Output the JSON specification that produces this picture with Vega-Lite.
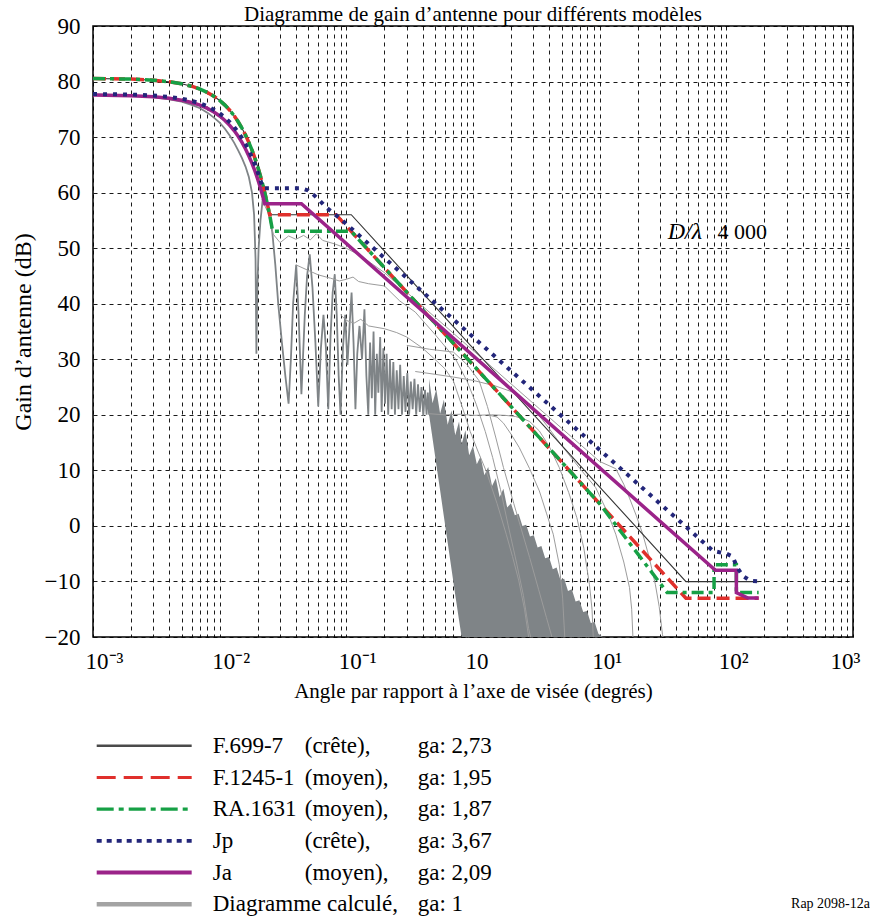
{
 "$schema": "https://vega.github.io/schema/vega-lite/v6.json",
 "background": "white",
 "padding": {"left": 10, "top": 3, "right": 0, "bottom": 0},
 "spacing": 28,
 "config": {
  "font": "Liberation Serif",
  "view": {"stroke": "black", "strokeWidth": 1.5},
  "axis": {"labelColor": "black", "titleColor": "black", "labelFont": "Liberation Serif", "titleFont": "Liberation Serif", "titleFontWeight": "normal"}
 },
 "datasets": {
  "f699": [{"x":0.001,"y":80.56},{"x":0.002,"y":80.44},{"x":0.003,"y":80.24},{"x":0.004,"y":79.96},{"x":0.005,"y":79.6},{"x":0.006,"y":79.16},{"x":0.007,"y":78.64},{"x":0.008,"y":78.04},{"x":0.009,"y":77.36},{"x":0.01,"y":76.6},{"x":0.011,"y":75.76},{"x":0.012,"y":74.84},{"x":0.013,"y":73.84},{"x":0.014,"y":72.76},{"x":0.015,"y":71.6},{"x":0.016,"y":70.36},{"x":0.017,"y":69.04},{"x":0.018,"y":67.64},{"x":0.019,"y":66.16},{"x":0.02,"y":64.6},{"x":0.021,"y":62.96},{"x":0.022,"y":61.24},{"x":0.023,"y":59.44},{"x":0.024,"y":57.56},{"x":0.0248,"y":56.03},{"x":0.1094,"y":56.03},{"x":48,"y":-10.03},{"x":180,"y":-10.03}],
  "f1245": [{"x":0.001,"y":80.56},{"x":0.002,"y":80.44},{"x":0.003,"y":80.24},{"x":0.004,"y":79.96},{"x":0.005,"y":79.6},{"x":0.006,"y":79.16},{"x":0.007,"y":78.64},{"x":0.008,"y":78.04},{"x":0.009,"y":77.36},{"x":0.01,"y":76.6},{"x":0.011,"y":75.76},{"x":0.012,"y":74.84},{"x":0.013,"y":73.84},{"x":0.014,"y":72.76},{"x":0.015,"y":71.6},{"x":0.016,"y":70.36},{"x":0.017,"y":69.04},{"x":0.018,"y":67.64},{"x":0.019,"y":66.16},{"x":0.02,"y":64.6},{"x":0.021,"y":62.96},{"x":0.022,"y":61.24},{"x":0.023,"y":59.44},{"x":0.024,"y":57.56},{"x":0.0248,"y":56.03},{"x":0.0829,"y":56.03},{"x":48,"y":-13.03},{"x":180,"y":-13.03}],
  "ra1631": [{"x":0.001,"y":80.56},{"x":0.002,"y":80.44},{"x":0.003,"y":80.24},{"x":0.004,"y":79.96},{"x":0.005,"y":79.6},{"x":0.006,"y":79.16},{"x":0.007,"y":78.64},{"x":0.008,"y":78.04},{"x":0.009,"y":77.36},{"x":0.01,"y":76.6},{"x":0.011,"y":75.76},{"x":0.012,"y":74.84},{"x":0.013,"y":73.84},{"x":0.014,"y":72.76},{"x":0.015,"y":71.6},{"x":0.016,"y":70.36},{"x":0.017,"y":69.04},{"x":0.018,"y":67.64},{"x":0.019,"y":66.16},{"x":0.02,"y":64.6},{"x":0.021,"y":62.96},{"x":0.022,"y":61.24},{"x":0.023,"y":59.44},{"x":0.024,"y":57.56},{"x":0.025,"y":55.6},{"x":0.0262,"y":53.03},{"x":0.1094,"y":53.03},{"x":10,"y":4},{"x":34.1,"y":-12},{"x":80,"y":-12},{"x":80.01,"y":-7},{"x":120,"y":-7},{"x":120.01,"y":-12},{"x":180,"y":-12}],
  "ja": [{"x":0.001,"y":77.56},{"x":0.002,"y":77.45},{"x":0.003,"y":77.26},{"x":0.004,"y":76.99},{"x":0.005,"y":76.65},{"x":0.006,"y":76.23},{"x":0.007,"y":75.74},{"x":0.008,"y":75.16},{"x":0.009,"y":74.52},{"x":0.01,"y":73.8},{"x":0.011,"y":73.0},{"x":0.012,"y":72.12},{"x":0.013,"y":71.17},{"x":0.014,"y":70.14},{"x":0.015,"y":69.04},{"x":0.016,"y":67.86},{"x":0.017,"y":66.6},{"x":0.018,"y":65.27},{"x":0.019,"y":63.86},{"x":0.02,"y":62.38},{"x":0.021,"y":60.82},{"x":0.022,"y":59.18},{"x":0.0227,"y":58.0},{"x":0.0442,"y":58.0},{"x":82,"y":-8},{"x":120,"y":-8},{"x":120.01,"y":-12},{"x":148,"y":-13},{"x":180,"y":-13}],
  "jp": [{"x":0.001,"y":77.76},{"x":0.002,"y":77.66},{"x":0.003,"y":77.48},{"x":0.004,"y":77.23},{"x":0.005,"y":76.92},{"x":0.006,"y":76.53},{"x":0.007,"y":76.07},{"x":0.008,"y":75.53},{"x":0.009,"y":74.93},{"x":0.01,"y":74.26},{"x":0.011,"y":73.52},{"x":0.012,"y":72.7},{"x":0.013,"y":71.82},{"x":0.014,"y":70.86},{"x":0.015,"y":69.84},{"x":0.016,"y":68.74},{"x":0.017,"y":67.57},{"x":0.018,"y":66.33},{"x":0.019,"y":65.02},{"x":0.02,"y":63.64},{"x":0.021,"y":62.19},{"x":0.0219,"y":60.8},{"x":0.0442,"y":60.8},{"x":0.05,"y":60.4},{"x":0.0546,"y":59.7},{"x":0.062,"y":58.5},{"x":0.0696,"y":57.3},{"x":0.0888,"y":55.4},{"x":78.5,"y":-4.5},{"x":100,"y":-5},{"x":112,"y":-5.5},{"x":122,"y":-7.5},{"x":135,"y":-9},{"x":155,"y":-9.9},{"x":180,"y":-10}],
  "thick": [{"x":0.001,"y":77.7},{"x":0.002,"y":77.5},{"x":0.003,"y":77.2},{"x":0.004,"y":76.8},{"x":0.005,"y":76.4},{"x":0.006,"y":75.8},{"x":0.007,"y":75.2},{"x":0.008,"y":74.4},{"x":0.009,"y":73.5},{"x":0.01,"y":72.6},{"x":0.011,"y":71.5},{"x":0.012,"y":70.3},{"x":0.013,"y":69.0},{"x":0.014,"y":67.6},{"x":0.015,"y":66.2},{"x":0.016,"y":64.7},{"x":0.017,"y":62.8},{"x":0.018,"y":60.0},{"x":0.0187,"y":56},{"x":0.0192,"y":48},{"x":0.0195,"y":31},{"x":0.0198,"y":42},{"x":0.0203,"y":50},{"x":0.021,"y":55},{"x":0.0218,"y":58.5},{"x":0.0228,"y":59},{"x":0.024,"y":57.5},{"x":0.026,"y":53},{"x":0.0275,"y":47},{"x":0.029,"y":40},{"x":0.031,"y":33},{"x":0.033,"y":27},{"x":0.035,"y":22},{"x":0.0365,"y":30},{"x":0.038,"y":40},{"x":0.0402,"y":47},{"x":0.042,"y":38},{"x":0.0442,"y":23.7},{"x":0.047,"y":38},{"x":0.049,"y":45},{"x":0.0514,"y":48.9},{"x":0.054,"y":43},{"x":0.057,"y":33},{"x":0.06,"y":21.5},{"x":0.063,"y":32},{"x":0.066,"y":38},{"x":0.069,"y":32},{"x":0.072,"y":21},{"x":0.075,"y":34},{"x":0.078,"y":42},{"x":0.081,"y":45.3},{"x":0.084,"y":38},{"x":0.087,"y":27},{"x":0.09,"y":20},{"x":0.094,"y":32},{"x":0.098,"y":38},{"x":0.102,"y":29},{"x":0.106,"y":36},{"x":0.11,"y":42},{"x":0.114,"y":33},{"x":0.118,"y":21},{"x":0.122,"y":31},{"x":0.127,"y":36},{"x":0.133,"y":30},{"x":0.139,"y":39},{"x":0.144,"y":27},{"x":0.149,"y":20},{"x":0.154,"y":33},{"x":0.159,"y":23},{"x":0.164,"y":35},{"x":0.169,"y":20},{"x":0.174,"y":31},{"x":0.179,"y":24},{"x":0.185,"y":34},{"x":0.19,"y":20.5},{"x":0.196,"y":32},{"x":0.202,"y":22},{"x":0.208,"y":31},{"x":0.214,"y":20},{"x":0.221,"y":30},{"x":0.228,"y":21},{"x":0.235,"y":29.5},{"x":0.242,"y":20},{"x":0.25,"y":28},{"x":0.258,"y":21},{"x":0.266,"y":29},{"x":0.275,"y":20},{"x":0.284,"y":27},{"x":0.293,"y":20.5},{"x":0.303,"y":27.5},{"x":0.313,"y":20},{"x":0.323,"y":26},{"x":0.334,"y":21},{"x":0.345,"y":26.5},{"x":0.356,"y":20},{"x":0.368,"y":25.5},{"x":0.38,"y":20.5},{"x":0.392,"y":25},{"x":0.405,"y":19.8},{"x":0.418,"y":24.5},{"x":0.43,"y":20},{"x":0.44,"y":24},{"x":0.45,"y":20}],
  "fill": [{"x":0.45,"y":26.5,"y2":20},{"x":0.479,"y":22.1,"y2":15.8},{"x":0.513,"y":24.6,"y2":11.1},{"x":0.55,"y":20.2,"y2":6.4},{"x":0.589,"y":22.7,"y2":1.7},{"x":0.631,"y":18.2,"y2":-3.0},{"x":0.676,"y":20.8,"y2":-7.7},{"x":0.724,"y":16.3,"y2":-12.4},{"x":0.776,"y":18.8,"y2":-17.0},{"x":0.813,"y":14.7,"y2":-20},{"x":0.871,"y":17.2,"y2":-20},{"x":0.933,"y":12.7,"y2":-20},{"x":1.0,"y":14.4,"y2":-20},{"x":1.072,"y":11.1,"y2":-20},{"x":1.148,"y":12.5,"y2":-20},{"x":1.23,"y":9.1,"y2":-20},{"x":1.318,"y":10.6,"y2":-20},{"x":1.413,"y":7.2,"y2":-20},{"x":1.514,"y":8.6,"y2":-20},{"x":1.622,"y":5.2,"y2":-20},{"x":1.738,"y":6.7,"y2":-20},{"x":1.862,"y":3.3,"y2":-20},{"x":1.995,"y":4.1,"y2":-20},{"x":2.138,"y":1.9,"y2":-20},{"x":2.291,"y":2.2,"y2":-20},{"x":2.455,"y":0.0,"y2":-20},{"x":2.63,"y":0.2,"y2":-20},{"x":2.818,"y":-1.9,"y2":-20},{"x":3.02,"y":-1.7,"y2":-20},{"x":3.236,"y":-3.9,"y2":-20},{"x":3.467,"y":-3.6,"y2":-20},{"x":3.715,"y":-5.8,"y2":-20},{"x":3.981,"y":-5.6,"y2":-20},{"x":4.266,"y":-7.8,"y2":-20},{"x":4.571,"y":-7.5,"y2":-20},{"x":4.898,"y":-9.7,"y2":-20},{"x":5.248,"y":-9.5,"y2":-20},{"x":5.623,"y":-11.7,"y2":-20},{"x":6.026,"y":-11.4,"y2":-20},{"x":6.457,"y":-13.6,"y2":-20},{"x":6.918,"y":-13.4,"y2":-20},{"x":7.413,"y":-15.5,"y2":-20},{"x":7.943,"y":-15.3,"y2":-20},{"x":8.511,"y":-17.5,"y2":-20},{"x":9.12,"y":-17.3,"y2":-20},{"x":9.772,"y":-19.4,"y2":-20},{"x":10.6,"y":-20,"y2":-20}],
  "thin": [
   {"c":"a","x":0.0215,"y":58.8},{"c":"a","x":0.024,"y":56.5},{"c":"a","x":0.0265,"y":52.5},{"c":"a","x":0.03,"y":51},{"c":"a","x":0.035,"y":52.2},{"c":"a","x":0.04,"y":51.6},{"c":"a","x":0.046,"y":52.3},{"c":"a","x":0.052,"y":51.5},{"c":"a","x":0.058,"y":52.6},{"c":"a","x":0.065,"y":51.4},{"c":"a","x":0.08,"y":50.8},{"c":"a","x":0.1,"y":50},{"c":"a","x":0.13,"y":48.6},{"c":"a","x":0.2,"y":45.6},{"c":"a","x":0.5,"y":37.6},{"c":"a","x":1,"y":31.6},{"c":"a","x":3.34,"y":21.1},{"c":"a","x":10,"y":11.6},{"c":"a","x":13.4,"y":10.3},{"c":"a","x":15.5,"y":7.5},{"c":"a","x":17.2,"y":5},{"c":"a","x":19.5,"y":1.8},{"c":"a","x":21.9,"y":-1.5},{"c":"a","x":24.5,"y":-5.5},{"c":"a","x":27.5,"y":-10.5},{"c":"a","x":29.5,"y":-14.5},{"c":"a","x":31.3,"y":-19.5},{"c":"a","x":31.6,"y":-20},
   {"c":"b","x":0.04,"y":47},{"c":"b","x":0.05,"y":46},{"c":"b","x":0.06,"y":45.2},{"c":"b","x":0.075,"y":44.6},{"c":"b","x":0.088,"y":44.1},{"c":"b","x":0.1,"y":44.4},{"c":"b","x":0.113,"y":44.8},{"c":"b","x":0.125,"y":44},{"c":"b","x":0.15,"y":43.6},{"c":"b","x":0.2,"y":43.2},{"c":"b","x":0.264,"y":40.5},{"c":"b","x":0.35,"y":38.5},{"c":"b","x":0.5,"y":34.5},{"c":"b","x":0.73,"y":30},{"c":"b","x":0.9,"y":26},{"c":"b","x":1.06,"y":21.9},{"c":"b","x":1.25,"y":17},{"c":"b","x":1.43,"y":12.3},{"c":"b","x":1.65,"y":6.5},{"c":"b","x":1.9,"y":0},{"c":"b","x":2.2,"y":-6.5},{"c":"b","x":2.5,"y":-12.5},{"c":"b","x":2.75,"y":-18.5},{"c":"b","x":2.85,"y":-20},
   {"c":"c","x":0.09,"y":38},{"c":"c","x":0.1,"y":37},{"c":"c","x":0.115,"y":36.5},{"c":"c","x":0.13,"y":37.2},{"c":"c","x":0.15,"y":36},{"c":"c","x":0.2,"y":35.5},{"c":"c","x":0.25,"y":34.8},{"c":"c","x":0.3,"y":34},{"c":"c","x":0.4,"y":32},{"c":"c","x":0.5,"y":30},{"c":"c","x":0.6,"y":28.3},{"c":"c","x":0.7,"y":26.1},{"c":"c","x":0.82,"y":21.5},{"c":"c","x":0.95,"y":17},{"c":"c","x":1.1,"y":13.3},{"c":"c","x":1.27,"y":9.9},{"c":"c","x":1.55,"y":4},{"c":"c","x":1.83,"y":-1.5},{"c":"c","x":2.05,"y":-5.5},{"c":"c","x":2.3,"y":-9.9},{"c":"c","x":2.55,"y":-15},{"c":"c","x":2.75,"y":-20},
   {"c":"d","x":0.3,"y":32.5},{"c":"d","x":0.455,"y":31.8},{"c":"d","x":0.7,"y":31.3},{"c":"d","x":0.9,"y":29},{"c":"d","x":1.12,"y":26.1},{"c":"d","x":1.3,"y":21.5},{"c":"d","x":1.51,"y":16},{"c":"d","x":1.74,"y":10.5},{"c":"d","x":2.1,"y":4},{"c":"d","x":2.8,"y":-5.7},{"c":"d","x":3.3,"y":-11.5},{"c":"d","x":3.8,"y":-16.5},{"c":"d","x":4.2,"y":-20},
   {"c":"e","x":0.35,"y":27.8},{"c":"e","x":0.5,"y":27.3},{"c":"e","x":0.7,"y":26.8},{"c":"e","x":1,"y":26.2},{"c":"e","x":1.5,"y":25.2},{"c":"e","x":2,"y":24.2},{"c":"e","x":2.5,"y":22.8},{"c":"e","x":3,"y":21.3},{"c":"e","x":3.34,"y":19.8},{"c":"e","x":4,"y":17.5},{"c":"e","x":5,"y":14.5},{"c":"e","x":7,"y":10.3},{"c":"e","x":9.3,"y":6.9},{"c":"e","x":11.5,"y":2.5},{"c":"e","x":13.4,"y":-1.5},{"c":"e","x":15.5,"y":-6.5},{"c":"e","x":17.2,"y":-11.1},{"c":"e","x":17.9,"y":-15},{"c":"e","x":18.3,"y":-20},
   {"c":"f","x":0.45,"y":20.2},{"c":"f","x":0.6,"y":20},{"c":"f","x":0.8,"y":20.1},{"c":"f","x":1,"y":19.9},{"c":"f","x":1.4,"y":20},{"c":"f","x":1.8,"y":19.9},{"c":"f","x":2.16,"y":19.7},{"c":"f","x":2.5,"y":19.3},{"c":"f","x":2.8,"y":18.8},{"c":"f","x":3.34,"y":17.1},{"c":"f","x":4,"y":14.3},{"c":"f","x":4.8,"y":10.5},{"c":"f","x":5.7,"y":6},{"c":"f","x":6.6,"y":1.5},{"c":"f","x":7.5,"y":-4},{"c":"f","x":8.3,"y":-10.5},{"c":"f","x":8.7,"y":-15},{"c":"f","x":8.9,"y":-20},
   {"c":"g","x":1.3,"y":20},{"c":"g","x":1.55,"y":19.6},{"c":"g","x":1.74,"y":18.5},{"c":"g","x":2,"y":16.5},{"c":"g","x":2.32,"y":14.1},{"c":"g","x":2.8,"y":10.3},{"c":"g","x":3.34,"y":6.3},{"c":"g","x":3.8,"y":2.3},{"c":"g","x":4.3,"y":-1.5},{"c":"g","x":4.8,"y":-7},{"c":"g","x":5.1,"y":-13},{"c":"g","x":5.3,"y":-20}
  ],
  "legend": [
   {"key":"F699","name":"F.699-7","qual":"(crête),","ga":"ga: 2,73"},
   {"key":"F1245","name":"F.1245-1","qual":"(moyen),","ga":"ga: 1,95"},
   {"key":"RA1631","name":"RA.1631","qual":"(moyen),","ga":"ga: 1,87"},
   {"key":"Jp","name":"Jp","qual":"(crête),","ga":"ga: 3,67"},
   {"key":"Ja","name":"Ja","qual":"(moyen),","ga":"ga: 2,09"},
   {"key":"calc","name":"Diagramme calculé,","qual":"","ga":"ga: 1"}
  ]
 },
 "vconcat": [
  {
   "width": 760,
   "height": 611,
   "title": {"text": "Diagramme de gain d’antenne pour différents modèles", "font": "Liberation Serif", "fontSize": 21, "fontWeight": "normal", "color": "black", "anchor": "middle", "offset": -10},
   "encoding": {
    "x": {"field": "x", "type": "quantitative",
     "scale": {"type": "log", "domain": [0.001, 1000], "nice": false},
     "axis": {
      "values": [0.001,0.002,0.003,0.004,0.005,0.006,0.007,0.008,0.009,0.01,0.02,0.03,0.04,0.05,0.06,0.07,0.08,0.09,0.1,0.2,0.3,0.4,0.5,0.6,0.7,0.8,0.9,1,2,3,4,5,6,7,8,9,10,20,30,40,50,60,70,80,90,100,200,300,400,500,600,700,800,900,1000],
      "labelExpr": "datum.value==0.001?'10⁻³':datum.value==0.01?'10⁻²':datum.value==0.1?'10⁻¹':datum.value==1?'10':datum.value==10?'10¹':datum.value==100?'10²':datum.value==1000?'10³':''",
      "grid": true, "gridColor": "black", "gridDash": [4, 4], "gridWidth": 0.9,
      "ticks": false, "domain": false,
      "labelFontSize": 23, "labelOffset": -8, "labelPadding": 13,
      "labelAlign": {"condition": {"test": "datum.value >= 1000", "value": "center"}, "value": "left"},
      "labelOverlap": false, "labelFlush": false, "labelBound": false,
      "title": "Angle par rapport à l’axe de visée (degrés)", "titleFontSize": 21, "titlePadding": 7
     }
    },
    "y": {"field": "y", "type": "quantitative",
     "scale": {"domain": [-20, 90], "nice": false, "zero": false},
     "axis": {
      "values": [-20,-10,0,10,20,30,40,50,60,70,80,90],
      "grid": true, "gridColor": "black", "gridDash": [4, 4], "gridWidth": 0.9,
      "ticks": false, "domain": false,
      "labelFontSize": 23, "labelPadding": 13,
      "title": "Gain d’antenne (dB)", "titleFontSize": 24, "titlePadding": 9
     }
    }
   },
   "layer": [
    {"data": {"name": "fill"}, "mark": {"type": "area", "color": "#7f8487", "clip": true}, "encoding": {"y2": {"field": "y2"}}},
    {"data": {"name": "thick"}, "mark": {"type": "line", "color": "#7f8487", "strokeWidth": 1.8, "clip": true}, "encoding": {}},
    {"data": {"name": "thin"}, "mark": {"type": "line", "color": "#9c9c9c", "strokeWidth": 1, "clip": true}, "encoding": {"detail": {"field": "c"}}},
    {"data": {"name": "f699"}, "mark": {"type": "line", "color": "#333333", "strokeWidth": 1.1, "clip": true}, "encoding": {}},
    {"data": {"name": "f1245"}, "mark": {"type": "line", "color": "#e0302c", "strokeWidth": 3.5, "strokeDash": [13, 6], "clip": true}, "encoding": {}},
    {"data": {"name": "ra1631"}, "mark": {"type": "line", "color": "#16a045", "strokeWidth": 3.5, "strokeDash": [12, 5, 4, 5], "clip": true}, "encoding": {}},
    {"data": {"name": "ja"}, "mark": {"type": "line", "color": "#9b2389", "strokeWidth": 3.5, "clip": true}, "encoding": {}},
    {"data": {"name": "jp"}, "mark": {"type": "line", "color": "#23267a", "strokeWidth": 4, "strokeDash": [4, 6], "clip": true}, "encoding": {}},
    {"data": {"values": [{"x": 34.4, "y": 52.9, "t": "D/λ"}]}, "mark": {"type": "text", "font": "Liberation Serif", "fontSize": 24, "fontStyle": "italic", "align": "left", "baseline": "middle", "color": "black"}, "encoding": {"text": {"field": "t"}}},
    {"data": {"values": [{"x": 85.3, "y": 52.9, "t": "4 000"}]}, "mark": {"type": "text", "font": "Liberation Serif", "fontSize": 22, "align": "left", "baseline": "middle", "color": "black"}, "encoding": {"text": {"field": "t"}}}
   ]
  },
  {
   "width": 777,
   "height": 190,
   "view": {"stroke": null},
   "data": {"name": "legend"},
   "encoding": {
    "y": {"field": "key", "type": "nominal", "scale": {"type": "point", "padding": 0.5, "domain": ["F699","F1245","RA1631","Jp","Ja","calc"]}, "axis": null}
   },
   "layer": [
    {"mark": {"type": "rule", "strokeCap": "butt"},
     "encoding": {
      "x": {"datum": 0.476, "type": "quantitative", "scale": {"domain": [0, 100]}, "axis": null},
      "x2": {"datum": 12.7},
      "color": {"field": "key", "type": "nominal", "scale": {"domain": ["F699","F1245","RA1631","Jp","Ja","calc"], "range": ["#4a4a4a","#e0302c","#16a045","#23267a","#9b2389","#a3a3a3"]}, "legend": null},
      "strokeDash": {"field": "key", "type": "nominal", "scale": {"domain": ["F699","F1245","RA1631","Jp","Ja","calc"], "range": [[1,0],[19,8],[17,5,5,5],[5,5],[1,0],[1,0]]}, "legend": null},
      "strokeWidth": {"field": "key", "type": "ordinal", "scale": {"domain": ["F699","F1245","RA1631","Jp","Ja","calc"], "range": [2.5,4.5,4.5,4.5,4.5,3]}, "legend": null}
     }},
    {"mark": {"type": "text", "font": "Liberation Serif", "fontSize": 23, "align": "left", "baseline": "middle", "color": "black"},
     "encoding": {"x": {"datum": 15.41, "type": "quantitative"}, "text": {"field": "name"}}},
    {"mark": {"type": "text", "font": "Liberation Serif", "fontSize": 23, "align": "left", "baseline": "middle", "color": "black"},
     "encoding": {"x": {"datum": 27.25, "type": "quantitative"}, "text": {"field": "qual"}}},
    {"mark": {"type": "text", "font": "Liberation Serif", "fontSize": 23, "align": "left", "baseline": "middle", "color": "black"},
     "encoding": {"x": {"datum": 41.79, "type": "quantitative"}, "text": {"field": "ga"}}},
    {"data": {"values": [{"key": "calc", "t": "Rap 2098-12a"}]},
     "mark": {"type": "text", "font": "Liberation Serif", "fontSize": 14, "align": "right", "baseline": "middle", "color": "black"},
     "encoding": {"x": {"datum": 100, "type": "quantitative"}, "text": {"field": "t"}}}
   ]
  }
 ]
}
